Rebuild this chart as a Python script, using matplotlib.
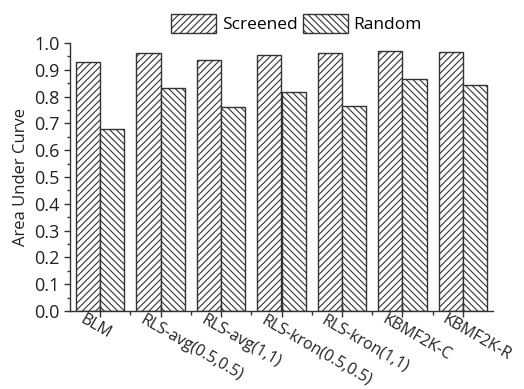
import numpy as np
import matplotlib.pyplot as plt
import matplotlib.transforms as mtransforms
from matplotlib.ticker import MultipleLocator, FormatStrFormatter

plt.rcParams['font.family'] = ['Open Sans', 'DejaVu Sans']
plt.rcParams['hatch.linewidth'] = 0.8
plt.rcParams['hatch.color'] = '#333333'

methods = ['BLM', 'RLS-avg(0.5,0.5)', 'RLS-avg(1,1)', 'RLS-kron(0.5,0.5)',
           'RLS-kron(1,1)', 'KBMF2K-C', 'KBMF2K-R']
screened = [0.930, 0.962, 0.935, 0.957, 0.962, 0.972, 0.966]
random_ = [0.678, 0.833, 0.763, 0.818, 0.766, 0.866, 0.845]

x = np.arange(len(methods))
w = 0.4

fig = plt.figure(figsize=(5.24, 3.89), dpi=100)
ax = fig.add_axes([70 / 524, 1 - 311 / 389, 423 / 524, 268 / 389])

ax.bar(x - w / 2, screened, w, color='white', edgecolor='#333333',
       linewidth=1, hatch='/////', label='Screened')
ax.bar(x + w / 2, random_, w, color='white', edgecolor='#333333',
       linewidth=1, hatch='\\\\\\\\\\', label='Random')

ax.set_xlim(-0.5, len(methods) - 0.5)
ax.set_ylim(0, 1.0)
ax.yaxis.set_major_locator(MultipleLocator(0.1))
ax.yaxis.set_minor_locator(MultipleLocator(0.05))
ax.yaxis.set_major_formatter(FormatStrFormatter('%.1f'))
ax.set_xticks(x)
ax.set_xticks(x[:-1] + 0.5, minor=True)
ax.set_xticklabels([])

# rotated category labels, shifted left of the tick like the original
shift = mtransforms.ScaledTranslation(-15 / 100, -1 / 100, fig.dpi_scale_trans)
trans = mtransforms.blended_transform_factory(ax.transData, ax.transAxes) + shift
for xi, name in zip(x, methods):
    ax.text(xi, 0, name, transform=trans, rotation=-30, ha='left', va='top',
            rotation_mode='anchor', fontsize=11.5, color='#222222')

ax.tick_params(axis='y', which='major', direction='out', length=4,
               width=1, colors='#333333', labelcolor='#222222', labelsize=13)
ax.tick_params(axis='y', which='minor', direction='out', length=2.5,
               width=1, colors='#333333')
ax.tick_params(axis='x', which='major', direction='inout', length=8,
               width=1, colors='#333333')
ax.tick_params(axis='x', which='minor', direction='out', length=3,
               width=1, colors='#333333')

for s in ['top', 'right']:
    ax.spines[s].set_visible(False)
for s in ['left', 'bottom']:
    ax.spines[s].set_color('#333333')
    ax.spines[s].set_linewidth(1)

ax.set_ylabel('Area Under Curve', fontsize=12, color='#222222', labelpad=4)

ax.legend(loc='lower center', bbox_to_anchor=(0.535, 1.01), ncol=2,
          frameon=False, fontsize=12.5, handlelength=2.6, handleheight=1.3,
          columnspacing=0.3, handletextpad=0.3, borderaxespad=0)

fig.savefig('out.png', dpi=100)
